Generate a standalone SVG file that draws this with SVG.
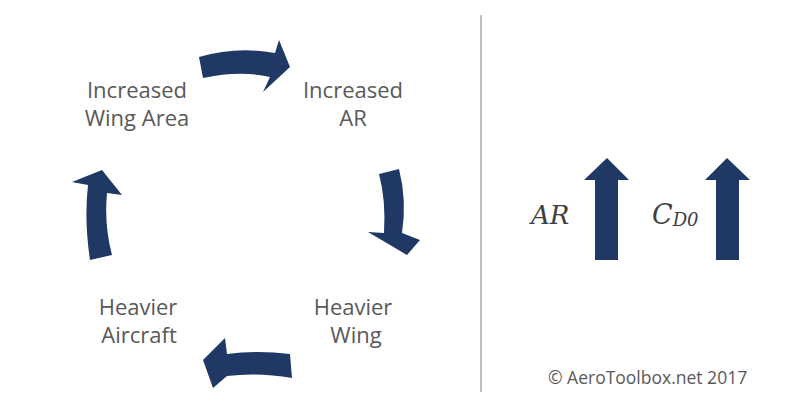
<svg xmlns="http://www.w3.org/2000/svg" width="800" height="401" viewBox="0 0 800 401">
<style>
.lbl{font-family:"Open Sans","Liberation Sans",sans-serif;font-size:22px;fill:#595959;text-anchor:middle}
.arr{fill:#203864}
.math{font-family:"DejaVu Serif","Liberation Serif",serif;font-style:italic;fill:#404040}
.copy{font-family:"Open Sans","Liberation Sans",sans-serif;font-size:17.5px;fill:#595959}
</style>
<rect width="800" height="401" fill="#ffffff"/>
<g id="connectors">
<path class="arr" d="M199,57 Q237,46 275,53 L279,40 L290,67 L263,92 L270,77 Q240,70 203,78 Z"/>
<path class="arr" d="M379,174 L399,169 Q407,200 402,233 L420,240 L407,255 L368,232 L384,233 Q386,200 379,174 Z"/>
<path class="arr" d="M290,354 Q258,350 227,354 L225,338 L203,360 L213,388 L227,376 Q258,372 292,378 Z"/>
<path class="arr" d="M90,260 Q84,220 88,185 L72,182 L102,170 L122,195 L107,193 Q104,225 112,255 Z"/>
</g>
<g id="node-wing-area"><text class="lbl" x="137" y="98">Increased</text><text class="lbl" x="137" y="126">Wing Area</text></g>
<g id="node-ar"><text class="lbl" x="353" y="98">Increased</text><text class="lbl" x="353" y="126">AR</text></g>
<g id="node-heavier-wing"><text class="lbl" x="353" y="315">Heavier</text><text class="lbl" x="356" y="343">Wing</text></g>
<g id="node-heavier-aircraft"><text class="lbl" x="138" y="315">Heavier</text><text class="lbl" x="139" y="343">Aircraft</text></g>
<line x1="481" y1="15" x2="481" y2="392" stroke="#808080" stroke-width="1"/>
<g id="ar-up">
<text class="math" x="531" y="224" font-size="26">AR</text>
<path class="arr" d="M595,260 L595,180 L584,180 L607,158 L629,180 L618,180 L618,260 Z"/>
</g>
<g id="cd0-up">
<text class="math" x="652" y="224" font-size="27">C<tspan font-size="18" dy="2">D0</tspan></text>
<path class="arr" d="M716,260 L716,180 L705,180 L727,158 L750,180 L739,180 L739,260 Z"/>
</g>
<text class="copy" x="548" y="384">© AeroToolbox.net 2017</text>
</svg>
